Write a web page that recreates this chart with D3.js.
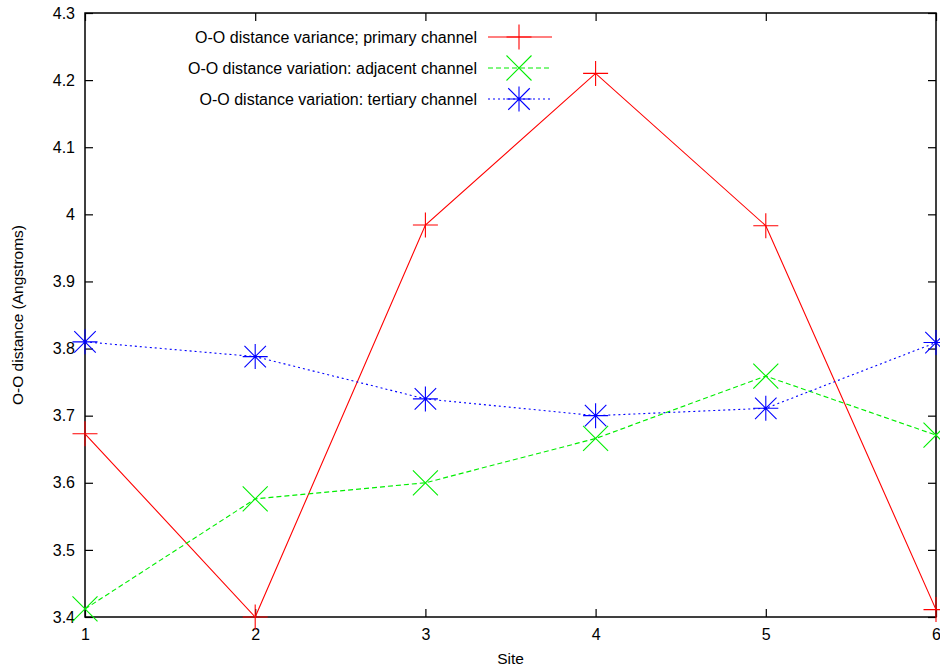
<!DOCTYPE html>
<html>
<head>
<meta charset="utf-8">
<script src="https://cdn.jsdelivr.net/npm/d3@7"></script>
<style>
  body { margin: 0; background: #fff; }
  svg { font-family: "Liberation Sans", Arial, sans-serif; }
</style>
</head>
<body>
<svg id="chart"></svg>
<script>
let sites = [1, 2, 3, 4, 5, 6]
let primary = [3.673, 3.400, 3.984, 4.210, 3.983, 3.411]
let adjacent = [3.412, 3.576, 3.600, 3.666, 3.759, 3.671]
let tertiary = [3.810, 3.788, 3.725, 3.700, 3.711, 3.809]
let yTicks = [3.4, 3.5, 3.6, 3.7, 3.8, 3.9, 4, 4.1, 4.2, 4.3]
let seriesNames = [
  "O-O distance variance; primary channel",
  "O-O distance variation: adjacent channel",
  "O-O distance variation: tertiary channel"
]

let width = 940
let height = 668
let plotLeft = 85, plotRight = 936, plotTop = 13, plotBottom = 617
let tickLen = 8

let svg = d3.select('#chart').attr('width', width).attr('height', height)

let xScale = d3.scaleLinear().domain([1, 6]).range([plotLeft, plotRight])
let yScale = d3.scaleLinear().domain([3.4, 4.3]).range([plotBottom, plotTop])

let series = [
  {name: seriesNames[0], values: primary, color: '#ff0000', dash: null, marker: 'plus'},
  {name: seriesNames[1], values: adjacent, color: '#00ee00', dash: '5,3', marker: 'times'},
  {name: seriesNames[2], values: tertiary, color: '#0000ff', dash: '2,3', marker: 'star'}
]

let markerPath = (type, r) => {
  let p = d3.path()
  if (type == 'plus' || type == 'star') {
    p.moveTo(-r, 0); p.lineTo(r, 0)
    p.moveTo(0, -r); p.lineTo(0, r)
  }
  if (type == 'times' || type == 'star') {
    let k = type == 'times' ? r : r * 0.86
    p.moveTo(-k, -k); p.lineTo(k, k)
    p.moveTo(-k, k); p.lineTo(k, -k)
  }
  return p.toString()
}

// axes with inward ticks, mirrored on top and right
let xAxis = d3.axisBottom(xScale).tickValues(sites).tickSizeInner(-tickLen).tickSizeOuter(0).tickPadding(10).tickFormat(d3.format('d'))
let yAxis = d3.axisLeft(yScale).tickValues(yTicks).tickSizeInner(-tickLen).tickSizeOuter(0).tickPadding(10).tickFormat(d => d3.format('')(d))

let gx = svg.append('g').attr('transform', 'translate(0,' + plotBottom + ')').call(xAxis)
let gy = svg.append('g').attr('transform', 'translate(' + plotLeft + ',0)').call(yAxis)

svg.append('g').attr('transform', 'translate(0,' + plotTop + ')')
  .call(d3.axisTop(xScale).tickValues(sites).tickSizeInner(-tickLen).tickSizeOuter(0).tickFormat(''))
svg.append('g').attr('transform', 'translate(' + plotRight + ',0)')
  .call(d3.axisRight(yScale).tickValues(yTicks).tickSizeInner(-tickLen).tickSizeOuter(0).tickFormat(''))

svg.selectAll('.domain').remove()
svg.selectAll('.tick line').attr('stroke', '#000').attr('stroke-width', 1.2)
svg.selectAll('.tick text').attr('fill', '#000').style('font-size', '16px')
gx.selectAll('.tick text').attr('dy', '0.8em')

svg.append('rect')
  .attr('x', plotLeft).attr('y', plotTop)
  .attr('width', plotRight - plotLeft).attr('height', plotBottom - plotTop)
  .attr('fill', 'none').attr('stroke', '#000').attr('stroke-width', 1.5)

svg.append('text')
  .attr('x', (plotLeft + plotRight) / 2).attr('y', 664)
  .attr('text-anchor', 'middle').style('font-size', '15.5px')
  .text('Site')

svg.append('text')
  .attr('transform', 'translate(23,' + ((plotTop + plotBottom) / 2) + ') rotate(-90)')
  .attr('text-anchor', 'middle').style('font-size', '15.5px')
  .text('O-O distance (Angstroms)')

let line = d3.line().x((d, i) => xScale(sites[i])).y(d => yScale(d))

series.forEach(s => {
  svg.append('path')
    .datum(s.values)
    .attr('d', line)
    .attr('fill', 'none')
    .attr('stroke', s.color)
    .attr('stroke-width', 1.1)
    .attr('stroke-dasharray', s.dash)

  svg.selectAll(null)
    .data(s.values)
    .enter()
    .append('path')
    .attr('transform', (d, i) => 'translate(' + xScale(sites[i]) + ',' + yScale(d) + ')')
    .attr('d', markerPath(s.marker, 12.5))
    .attr('fill', 'none')
    .attr('stroke', s.color)
    .attr('stroke-width', 1.1)
})

// legend
let legendY = [37, 68, 99]
series.forEach((s, i) => {
  let g = svg.append('g').attr('transform', 'translate(0,' + legendY[i] + ')')
  g.append('text')
    .attr('x', 477).attr('y', 0).attr('dy', '0.35em')
    .attr('text-anchor', 'end').style('font-size', '16px')
    .text(s.name)
  g.append('line')
    .attr('x1', 488).attr('x2', 552)
    .attr('stroke', s.color).attr('stroke-width', 1.1)
    .attr('stroke-dasharray', s.dash)
  g.append('path')
    .attr('transform', 'translate(519,0)')
    .attr('d', markerPath(s.marker, 12.5))
    .attr('fill', 'none').attr('stroke', s.color).attr('stroke-width', 1.1)
})
</script>
</body>
</html>
